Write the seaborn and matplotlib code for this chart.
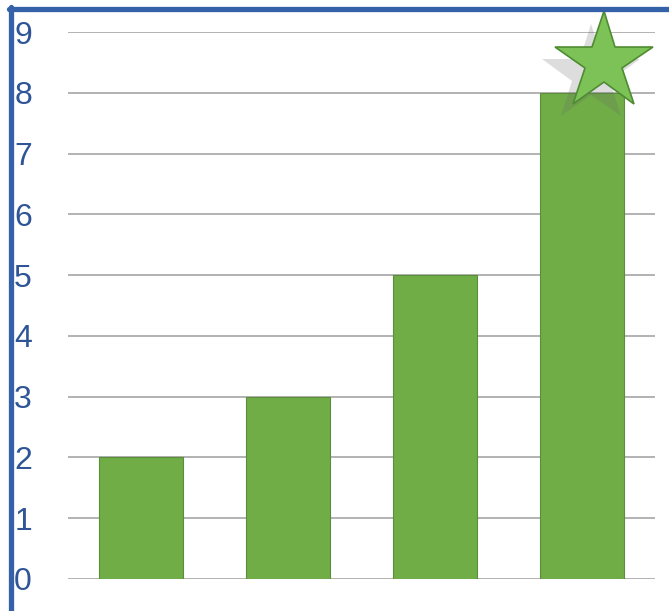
import matplotlib
matplotlib.use('Agg')
import matplotlib.pyplot as plt
import matplotlib.patheffects as pe
from matplotlib.lines import Line2D
import seaborn as sns
import pandas as pd

categories = ['A', 'B', 'C', 'D']
values = [2, 3, 5, 8]
y_ticks = [0, 1, 2, 3, 4, 5, 6, 7, 8, 9]

BAR_GREEN = '#70AD47'
BLUE = '#2F5597'

df = pd.DataFrame({'cat': categories, 'val': values})

sns.set_style('white')
plt.rcParams['font.family'] = ['Liberation Sans', 'DejaVu Sans']

W, H = 669, 611
fig = plt.figure(figsize=(W / 100, H / 100), dpi=100, facecolor='white')
ax = fig.add_axes([68 / W, (H - 579) / H, (655 - 68) / W, (579 - 32) / H])

sns.barplot(data=df, x='cat', y='val', color=BAR_GREEN, width=0.573,
            saturation=1, edgecolor='#5B8E3B', linewidth=0.8, ax=ax, zorder=3)

ax.set_xlim(-0.5, len(categories) - 0.5)
ax.set_ylim(0, 9)
ax.set_yticks(y_ticks)
ax.set_yticklabels([str(t) for t in y_ticks])
ax.set_xticks([])
ax.set_xlabel('')
ax.set_ylabel('')
ax.grid(axis='y', color='#A6A6A6', linewidth=1.2, zorder=0)
ax.set_axisbelow(True)
for s in ax.spines.values():
    s.set_visible(False)
ax.tick_params(axis='y', length=0, labelsize=23, labelcolor=BLUE, pad=26)

# star on top of the tallest bar
imax = values.index(max(values))
ax.plot(imax + 0.15, values[imax] + 0.5, marker='*', markersize=74,
        color='#7CC256', markeredgecolor='#4F8B32', markeredgewidth=1.2,
        zorder=5, clip_on=False,
        path_effects=[pe.SimplePatchShadow(offset=(-9, -9), shadow_rgbFace='#666666', alpha=0.22),
                      pe.Normal()])

# blue frame at left and top
fig.add_artist(Line2D([10.5 / W, 10.5 / W], [0, (H - 7) / H], color='#3461A8', linewidth=3.8))
fig.add_artist(Line2D([8.5 / W, 1], [(H - 9) / H, (H - 9) / H], color='#3461A8', linewidth=3.8))

fig.savefig('out.png', dpi=100, facecolor='white')
